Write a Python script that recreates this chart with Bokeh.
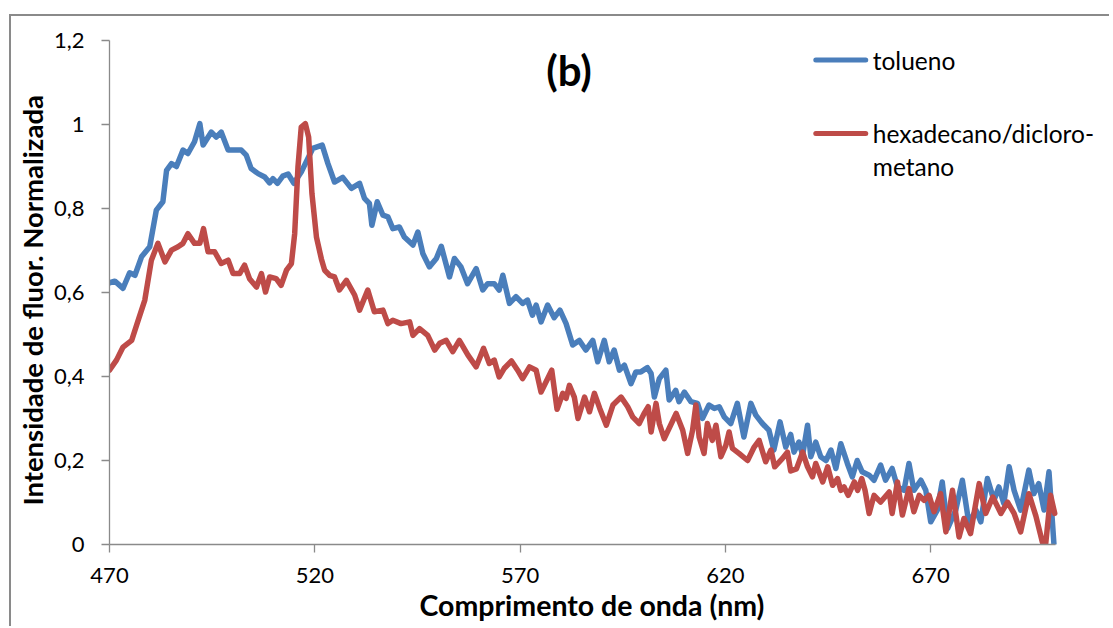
from bokeh.plotting import figure
from bokeh.models import FixedTicker, CustomJSTickFormatter, Label, Title
from bokeh.embed import file_html
from bokeh.resources import INLINE

# ---------------- data ----------------
tolueno_nm = [470.0, 471.3, 473.3, 474.9, 476.2, 477.8, 479.8, 481.4, 483.0, 483.9, 485.1, 486.3, 487.9, 489.1,
              490.7, 492.0, 492.8, 494.8, 496.0, 497.2, 498.9, 502.1, 503.3, 504.5, 506.2, 507.8, 509.0, 509.8,
              510.9, 512.2, 513.5, 514.9, 516.7, 517.9, 519.5, 521.8, 523.2, 524.8, 526.8, 528.9, 530.9, 532.1,
              533.3, 533.9, 535.2, 536.6, 537.8, 539.0, 540.6, 541.8, 543.9, 545.1, 546.3, 547.9, 549.6, 550.8,
              552.8, 554.0, 555.6, 557.2, 559.3, 560.9, 562.1, 563.7, 564.9, 565.8, 567.4, 569.0, 570.6, 571.8,
              573.0, 573.9, 575.1, 576.7, 578.3, 579.7, 581.2, 582.8, 584.4, 586.0, 587.7, 588.9, 590.5, 591.7,
              592.9, 594.2, 595.4, 597.0, 598.2, 599.4, 601.0, 601.9, 602.7, 603.9, 605.5, 606.3, 607.9, 608.7,
              610.0, 611.6, 613.2, 614.4, 616.0, 617.3, 618.5, 619.7, 621.3, 622.9, 624.5, 626.2, 627.4, 629.0,
              630.6, 631.8, 633.3, 634.7, 635.9, 636.7, 637.9, 638.8, 640.0, 640.8, 642.0, 643.2, 644.5, 645.7,
              646.9, 648.1, 649.7, 650.9, 652.1, 653.3, 655.0, 656.2, 657.8, 659.0, 660.6, 661.9, 663.5, 664.7,
              665.9, 667.6, 668.8, 670.0, 671.6, 672.8, 674.1, 676.1, 677.7, 679.3, 681.0, 682.2, 683.8, 685.4,
              686.6, 687.8, 689.1, 690.3, 691.9, 693.9, 695.1, 696.3, 697.6, 698.8, 700.0]
tolueno_val = [0.623, 0.627, 0.610, 0.647, 0.641, 0.685, 0.709, 0.796, 0.816, 0.891, 0.907, 0.900, 0.939, 0.931,
               0.959, 1.002, 0.951, 0.982, 0.970, 0.982, 0.939, 0.939, 0.927, 0.895, 0.883, 0.875, 0.861, 0.871,
               0.860, 0.877, 0.882, 0.860, 0.887, 0.911, 0.943, 0.951, 0.907, 0.863, 0.874, 0.848, 0.860, 0.824,
               0.812, 0.760, 0.816, 0.784, 0.780, 0.752, 0.756, 0.732, 0.713, 0.744, 0.693, 0.661, 0.681, 0.710,
               0.637, 0.681, 0.661, 0.621, 0.657, 0.606, 0.621, 0.621, 0.606, 0.641, 0.574, 0.590, 0.574, 0.582,
               0.546, 0.570, 0.530, 0.570, 0.540, 0.558, 0.526, 0.475, 0.486, 0.463, 0.486, 0.435, 0.486, 0.435,
               0.463, 0.415, 0.427, 0.383, 0.411, 0.411, 0.421, 0.407, 0.351, 0.395, 0.415, 0.344, 0.367, 0.340,
               0.363, 0.340, 0.336, 0.300, 0.332, 0.324, 0.328, 0.304, 0.288, 0.336, 0.256, 0.336, 0.308, 0.288,
               0.272, 0.225, 0.292, 0.232, 0.262, 0.220, 0.244, 0.213, 0.284, 0.209, 0.244, 0.209, 0.200, 0.225,
               0.181, 0.240, 0.193, 0.161, 0.200, 0.173, 0.165, 0.153, 0.189, 0.153, 0.181, 0.137, 0.129, 0.193,
               0.129, 0.153, 0.129, 0.054, 0.082, 0.149, 0.038, 0.082, 0.153, 0.050, 0.082, 0.054, 0.157, 0.105,
               0.137, 0.098, 0.185, 0.129, 0.082, 0.177, 0.121, 0.145, 0.082, 0.173, 0.002]

hexa_nm = [470.0, 471.7, 473.3, 475.4, 477.0, 478.6, 480.2, 481.8, 483.5, 485.1, 486.7, 487.9, 489.1, 490.7,
           492.0, 492.9, 494.0, 495.6, 497.2, 498.9, 500.1, 501.7, 502.9, 504.1, 505.8, 507.0, 508.0, 509.0,
           510.6, 511.8, 513.1, 514.3, 515.1, 515.9, 516.7, 517.7, 518.5, 519.3, 520.4, 521.6, 522.4, 523.6,
           524.8, 526.0, 527.7, 529.7, 530.9, 532.9, 534.5, 536.6, 537.8, 539.0, 541.0, 543.1, 543.9, 545.5,
           547.5, 549.2, 550.4, 552.0, 553.6, 555.2, 557.3, 559.3, 561.1, 562.5, 563.7, 564.9, 566.1, 567.9,
           569.4, 570.6, 572.3, 573.9, 575.1, 576.3, 577.7, 579.0, 580.4, 581.2, 582.0, 583.2, 584.1, 585.7,
           586.9, 588.1, 589.4, 591.0, 592.6, 594.6, 596.2, 597.4, 599.0, 600.2, 601.2, 601.9, 603.1, 603.9,
           605.1, 608.0, 609.6, 610.8, 612.0, 612.8, 613.6, 614.8, 615.6, 616.8, 617.7, 618.9, 620.1, 620.9,
           621.7, 623.3, 625.4, 627.0, 628.2, 629.8, 631.1, 632.0, 633.9, 635.1, 635.9, 637.3, 638.8, 640.0,
           641.2, 642.0, 643.7, 644.9, 646.1, 647.3, 648.1, 648.9, 649.9, 651.4, 652.2, 653.2, 654.0, 655.0,
           656.2, 657.8, 659.9, 660.6, 661.9, 663.1, 664.7, 665.9, 667.2, 668.4, 669.6, 670.8, 672.4, 673.7,
           675.3, 676.9, 678.1, 679.7, 681.8, 683.4, 685.1, 687.1, 688.7, 690.3, 691.9, 693.9, 695.6, 697.2,
           698.0, 699.2, 700.2]
hexa_val = [0.415, 0.439, 0.470, 0.486, 0.534, 0.582, 0.677, 0.717, 0.673, 0.701, 0.709, 0.717, 0.740, 0.717,
            0.717, 0.752, 0.697, 0.697, 0.669, 0.677, 0.645, 0.645, 0.665, 0.633, 0.613, 0.645, 0.601, 0.637,
            0.633, 0.617, 0.653, 0.669, 0.740, 0.899, 0.994, 1.002, 0.970, 0.836, 0.732, 0.680, 0.653, 0.641,
            0.637, 0.606, 0.629, 0.594, 0.558, 0.606, 0.554, 0.558, 0.526, 0.534, 0.526, 0.530, 0.498, 0.514,
            0.498, 0.463, 0.479, 0.486, 0.459, 0.486, 0.451, 0.423, 0.467, 0.431, 0.439, 0.399, 0.419, 0.437,
            0.415, 0.395, 0.423, 0.415, 0.363, 0.387, 0.415, 0.322, 0.360, 0.348, 0.379, 0.351, 0.300, 0.351,
            0.316, 0.360, 0.324, 0.284, 0.332, 0.351, 0.328, 0.304, 0.288, 0.312, 0.328, 0.268, 0.336, 0.288,
            0.252, 0.312, 0.272, 0.217, 0.272, 0.332, 0.256, 0.217, 0.288, 0.248, 0.284, 0.209, 0.236, 0.268,
            0.229, 0.217, 0.200, 0.232, 0.248, 0.197, 0.225, 0.185, 0.205, 0.220, 0.175, 0.180, 0.220, 0.185,
            0.161, 0.193, 0.149, 0.185, 0.141, 0.157, 0.129, 0.137, 0.117, 0.149, 0.129, 0.157, 0.129, 0.074,
            0.117, 0.101, 0.125, 0.074, 0.149, 0.070, 0.133, 0.078, 0.117, 0.105, 0.117, 0.078, 0.121, 0.030,
            0.129, 0.018, 0.062, 0.026, 0.145, 0.074, 0.113, 0.074, 0.101, 0.074, 0.030, 0.121, 0.068, 0.005,
            0.002, 0.117, 0.074]

x_ticks = [470, 520, 570, 620, 670]
y_ticks = [0, 0.2, 0.4, 0.6, 0.8, 1.0, 1.2]
series_names = ["tolueno", "hexadecano/dicloro-\nmetano"]
blue = "#4A7EBB"
red = "#BE4B48"
FONT = "Lato"

X0, XAX = 470, 700.4          # data extent of the x axis line
Y0, Y1 = 0, 1.2
# page-pixel geometry: axis from 108 to 1055, frame extended to 1106 so the legend is not clipped
FL, FAX, FR, FT, FB = 108, 1055, 1106, 40, 544
X1 = X0 + (FR - FL) * (XAX - X0) / (FAX - FL)


def dx(px):
    return X0 + (px - FL) * (XAX - X0) / (FAX - FL)


def dy(py):
    return Y0 + (FB - py) * (Y1 - Y0) / (FB - FT)


p = figure(width=1100, height=612, x_range=(X0, X1), y_range=(Y0, Y1),
           output_backend="svg", toolbar_location=None,
           min_border_left=97, min_border_right=5, min_border_top=24, min_border_bottom=84)
p.margin = (14, 0, 0, 9)
p.styles = {"border-left": "2px solid #8a8a8a", "border-top": "2px solid #8a8a8a"}
p.outline_line_color = None
p.xgrid.visible = False
p.ygrid.visible = False
p.background_fill_color = "white"
p.border_fill_color = "white"

p.line(tolueno_nm, tolueno_val, line_color=blue, line_width=5.5, line_join="round", line_cap="round")
p.line(hexa_nm, hexa_val, line_color=red, line_width=5.5, line_join="round", line_cap="round")

for ax in (p.xaxis[0], p.yaxis[0]):
    ax.axis_line_color = "#8a8a8a"
    ax.axis_line_width = 1.3
    ax.major_tick_line_color = "#8a8a8a"
    ax.major_tick_line_width = 1.3
    ax.major_tick_in = 0
    ax.major_tick_out = 8
    ax.minor_tick_line_color = None
    ax.major_label_text_font = FONT
    ax.major_label_text_font_size = "22px"
    ax.major_label_text_color = "black"

p.xaxis.ticker = FixedTicker(ticks=x_ticks)
p.xaxis.bounds = (X0, XAX)
p.xaxis.major_label_standoff = 15
p.yaxis.ticker = FixedTicker(ticks=y_ticks)
p.yaxis.major_label_standoff = 17
p.yaxis.formatter = CustomJSTickFormatter(code="""
    var s = (Math.round(tick * 10) / 10).toString();
    return s.replace('.', ',');
""")

# axis titles as side-panel titles so they can sit where the original has them
p.add_layout(Title(text="Intensidade de fluor. Normalizada", align="left", offset=FB - 505,
                   text_font=FONT, text_font_style="bold", text_font_size="27.5px",
                   text_color="black", standoff=4), "left")
p.add_layout(Title(text="Comprimento de onda (nm)", align="left", offset=418 - FL,
                   text_font=FONT, text_font_style="bold", text_font_size="28.5px",
                   text_color="black", standoff=0), "below")

# panel title
p.add_layout(Label(x=dx(568), y=dy(69), text="(b)", text_align="center", text_baseline="middle",
                   text_font=FONT, text_font_style="bold", text_font_size="42px", text_color="black"))

# legend
p.segment(x0=[dx(815)], y0=[dy(59.5)], x1=[dx(865)], y1=[dy(59.5)], line_color=blue, line_width=5,
          line_cap="round")
p.segment(x0=[dx(815)], y0=[dy(133)], x1=[dx(865)], y1=[dy(133)], line_color=red, line_width=5,
          line_cap="round")
p.add_layout(Label(x=dx(872), y=dy(60), text=series_names[0], text_align="left", text_baseline="middle",
                   text_font=FONT, text_font_size="24.5px", text_color="black"))
lines2 = series_names[1].split("\n")
p.add_layout(Label(x=dx(872), y=dy(133), text=lines2[0], text_align="left", text_baseline="middle",
                   text_font=FONT, text_font_size="24.5px", text_color="black"))
p.add_layout(Label(x=dx(872), y=dy(166), text=lines2[1], text_align="left", text_baseline="middle",
                   text_font=FONT, text_font_size="24.5px", text_color="black"))

open("out.html", "w").write(file_html(p, INLINE))
